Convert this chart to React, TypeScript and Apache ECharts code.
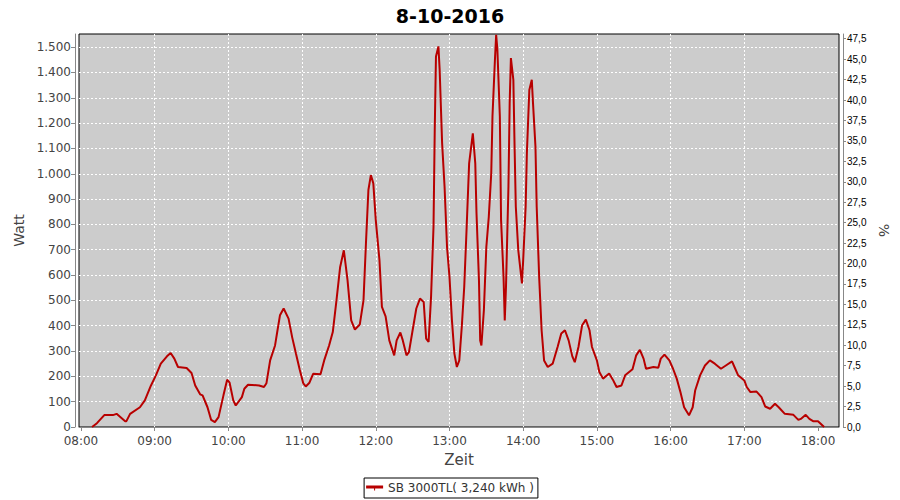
import React, { useEffect, useRef } from "react";
import * as echarts from "echarts";

const titleText = "8-10-2016";
const seriesName = "SB 3000TL( 3,240 kWh )";
const xName = "Zeit";
const yLeftName = "Watt";
const yRightName = "%";

const hourTicks = ["08:00", "09:00", "10:00", "11:00", "12:00", "13:00", "14:00", "15:00", "16:00", "17:00", "18:00"];

const times = [
  "08:09", "08:13", "08:19", "08:26", "08:29", "08:36", "08:37", "08:40", "08:48", "08:52",
  "08:57", "09:01", "09:05", "09:10", "09:13", "09:16", "09:19", "09:26", "09:30", "09:33",
  "09:37", "09:39", "09:43", "09:46", "09:49", "09:52", "09:56", "09:59", "10:01", "10:04",
  "10:06", "10:11", "10:13", "10:16", "10:25", "10:29", "10:31", "10:34", "10:38", "10:40",
  "10:42", "10:45", "10:49", "10:52", "10:55", "10:58", "11:01", "11:03", "11:06", "11:09",
  "11:15", "11:18", "11:22", "11:25", "11:28", "11:31", "11:34", "11:37", "11:40", "11:43",
  "11:47", "11:50", "11:52", "11:54", "11:56", "11:58", "12:00", "12:03", "12:05", "12:08",
  "12:11", "12:15", "12:17", "12:20", "12:22", "12:25", "12:27", "12:30", "12:33", "12:36",
  "12:39", "12:41", "12:43", "12:45", "12:47", "12:48", "12:49", "12:51", "12:52", "12:54",
  "12:56", "12:58", "13:00", "13:02", "13:04", "13:06", "13:08", "13:10", "13:12", "13:14",
  "13:16", "13:19", "13:21", "13:22", "13:24", "13:25", "13:26", "13:28", "13:30", "13:32",
  "13:34", "13:35", "13:37", "13:38", "13:39", "13:41", "13:42", "13:44", "13:45", "13:46",
  "13:48", "13:49", "13:50", "13:52", "13:53", "13:54", "13:56", "13:59", "14:00", "14:02",
  "14:03", "14:05", "14:07", "14:08", "14:10", "14:11", "14:13", "14:15", "14:17", "14:20",
  "14:24", "14:28", "14:31", "14:34", "14:37", "14:40", "14:42", "14:45", "14:48", "14:51",
  "14:54", "14:56", "15:00", "15:02", "15:05", "15:10", "15:13", "15:16", "15:20", "15:23",
  "15:29", "15:32", "15:35", "15:38", "15:40", "15:46", "15:50", "15:52", "15:55", "15:59",
  "16:02", "16:05", "16:08", "16:11", "16:15", "16:18", "16:20", "16:24", "16:28", "16:32",
  "16:36", "16:41", "16:45", "16:50", "16:52", "16:55", "17:00", "17:02", "17:05", "17:10",
  "17:14", "17:17", "17:21", "17:25", "17:28", "17:33", "17:40", "17:44", "17:46", "17:50",
  "17:53", "17:56", "18:00", "18:05",
];

const watts = [
  0, 15, 47, 47, 52, 23, 23, 52, 78, 105,
  164, 204, 250, 279, 292, 270, 237, 233, 213, 164,
  129, 125, 78, 28, 19, 39, 125, 187, 175, 105,
  85, 118, 151, 167, 164, 158, 173, 263, 322, 382,
  441, 468, 428, 353, 290, 228, 172, 160, 175, 210,
  208, 263, 322, 375, 500, 632, 698, 580, 421, 385,
  405, 500, 725, 936, 995, 962, 817, 659, 474, 437,
  342, 283, 342, 373, 342, 283, 296, 382, 468, 507,
  494, 349, 336, 514, 791, 1173, 1463, 1503, 1411, 1121,
  949, 711, 593, 421, 290, 237, 263, 395, 553, 791,
  1041, 1160, 1041, 844, 580, 342, 322, 461, 711, 830,
  1002, 1226, 1450, 1549, 1490, 1226, 817, 593, 421, 553,
  949, 1279, 1457, 1371, 1107, 870, 698, 567, 659, 870,
  1081, 1331, 1371, 1279, 1107, 870, 593, 382, 263, 237,
  250, 316, 369, 382, 342, 279, 256, 316, 402, 424,
  382, 316, 263, 217, 191, 211, 187, 158, 164, 204,
  228, 283, 305, 270, 230, 237, 234, 270, 286, 263,
  230, 191, 138, 78, 46, 78, 144, 204, 243, 263,
  250, 230, 243, 259, 237, 204, 184, 158, 138, 140,
  118, 81, 72, 92, 78, 52, 48, 28, 32, 48,
  32, 23, 23, 0,
];

const toMin = (s: string) => {
  const [h, m] = s.split(":").map(Number);
  return h * 60 + m;
};
const pad = (n: number) => (n < 10 ? "0" + n : "" + n);
const fmtTime = (v: number) => pad(Math.floor(Math.round(v) / 60)) + ":" + pad(Math.round(v) % 60);

export default function App() {
  const ref = useRef<HTMLDivElement>(null);
  useEffect(() => {
    if (!ref.current) return;
    const chart = echarts.init(ref.current, undefined, { renderer: "svg" });
    const tickVals = hourTicks.map(toMin);
    const data = times.map((t, i) => [toMin(t), watts[i]]);
    const font = "DejaVu Sans";
    chart.setOption({
      animation: false,
      backgroundColor: "#ffffff",
      textStyle: { fontFamily: font },
      title: {
        text: titleText,
        left: "center",
        top: 1,
        textStyle: { fontSize: 19, fontWeight: "bold", color: "#000", fontFamily: font },
      },
      legend: {
        left: "center",
        top: 478,
        data: [{ name: seriesName, icon: "path://M0,0 H17 V3 H9 V5 H8 V3 H0 Z" }],
        backgroundColor: "#fff",
        borderColor: "#000",
        borderWidth: 1,
        borderRadius: 0,
        padding: [4, 4, 4, 2],
        itemWidth: 17,
        itemHeight: 5,
        itemGap: 4,
        textStyle: { fontSize: 12, color: "#333", fontFamily: font },
      },
      grid: {
        left: 79,
        right: 61,
        top: 34,
        bottom: 73,
        show: true,
        backgroundColor: "#cccccc",
        borderColor: "#000",
        borderWidth: 1,
      },
      xAxis: {
        type: "value",
        min: 478.4,
        max: 1097.1,
        offset: 4,
        name: xName,
        nameLocation: "middle",
        nameGap: 21,
        nameTextStyle: { fontSize: 15, color: "#444", fontFamily: font },
        axisLine: { show: true, lineStyle: { color: "#888", width: 1 } },
        axisTick: { show: true, length: 4, customValues: tickVals, lineStyle: { color: "#888" } },
        axisLabel: {
          customValues: tickVals,
          formatter: (v: number) => fmtTime(v),
          fontSize: 12,
          color: "#444",
          margin: 4,
          fontFamily: font,
        },
        splitLine: {
          show: true,
          showMinLine: false,
          showMaxLine: false,
          lineStyle: { color: "#ffffff", type: [2, 2], width: 1 },
        },
      },
      yAxis: [
        {
          type: "value",
          position: "left",
          min: 0,
          max: 1552,
          interval: 100,
          offset: 4,
          name: yLeftName,
          nameLocation: "middle",
          nameRotate: 90,
          nameGap: 49,
          nameTextStyle: { fontSize: 14, color: "#444", fontFamily: font },
          axisLine: { show: true, lineStyle: { color: "#888", width: 1 } },
          axisTick: { show: true, length: 4, lineStyle: { color: "#888" } },
          axisLabel: {
            showMaxLabel: false,
            fontSize: 12,
            color: "#444",
            margin: 4,
            fontFamily: font,
            formatter: (v: number) => String(Math.round(v)).replace(/\B(?=(\d{3})+(?!\d))/g, "."),
          },
          splitLine: {
            show: true,
            showMinLine: false,
            showMaxLine: false,
            lineStyle: { color: "#ffffff", type: [2, 2], width: 1 },
          },
        },
        {
          type: "value",
          position: "right",
          min: 0,
          max: 48.08,
          interval: 2.5,
          offset: 4,
          name: yRightName,
          nameLocation: "middle",
          nameRotate: -90,
          nameGap: 34,
          nameTextStyle: { fontSize: 14, color: "#444", fontFamily: font },
          axisLine: { show: true, lineStyle: { color: "#888", width: 1 } },
          axisTick: { show: true, length: 3, lineStyle: { color: "#888" } },
          axisLabel: {
            showMaxLabel: false,
            fontSize: 10,
            color: "#000",
            margin: 4,
            fontFamily: "Liberation Sans",
            formatter: (v: number) => v.toFixed(1).replace(".", ","),
          },
          splitLine: { show: false },
        },
      ],
      series: [
        {
          name: seriesName,
          type: "line",
          yAxisIndex: 0,
          data,
          symbol: "none",
          lineStyle: { color: "#b80000", width: 2 },
          itemStyle: { color: "#b80000" },
        },
      ],
    });
    return () => chart.dispose();
  }, []);
  return (
    <div
      ref={ref}
      style={{ position: "fixed", left: 0, top: 0, width: 900, height: 500, background: "#fff" }}
    />
  );
}
